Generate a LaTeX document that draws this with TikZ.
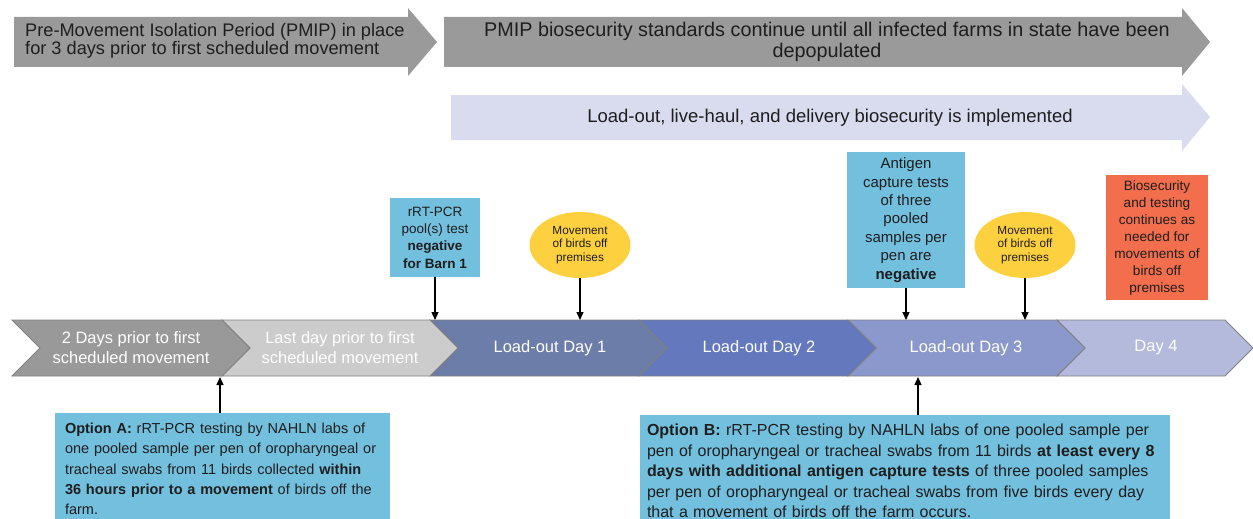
\documentclass[tikz,border=0pt]{standalone}
\usepackage{fontspec}
\setmainfont{Liberation Sans}
\usetikzlibrary{arrows.meta,shapes.geometric}
\definecolor{arrgray}{HTML}{9A9A9A}
\definecolor{lav}{HTML}{D9DCEF}
\definecolor{boxblue}{HTML}{73C0DE}
\definecolor{yel}{HTML}{FDD03F}
\definecolor{orng}{HTML}{F26E4C}
\definecolor{segA}{HTML}{999999}
\definecolor{segB}{HTML}{CCCCCC}
\definecolor{segC}{HTML}{6B7DA8}
\definecolor{segD}{HTML}{6378BD}
\definecolor{segE}{HTML}{8A98CC}
\definecolor{segF}{HTML}{B3BADC}
\definecolor{outl}{HTML}{808080}
\definecolor{txt}{HTML}{1E1E1E}
\begin{document}
\begin{tikzpicture}[x=1pt,y=-1pt,
  arr/.style={line width=1.3pt,-{Triangle[length=8pt,width=7pt]}},
  seg/.style={draw=outl,line width=0.8pt},
  segtext/.style={text=white,align=center,inner sep=0pt,font=\fontsize{16.5}{20}\selectfont},
  bluebox/.style={fill=boxblue,inner sep=0pt,align=center,text=txt},
  oval/.style={ellipse,fill=yel,inner sep=0pt,align=center,text=txt,font=\fontsize{11.8}{13.8}\selectfont},
  optbox/.style={fill=boxblue,inner sep=0pt,align=left,text=txt}]
\useasboundingbox (0,0) rectangle (1253,519);
\fill[white] (0,0) rectangle (1253,519);

% top arrows
\fill[arrgray] (14,17) -- (408,17) -- (408,8) -- (437,42) -- (408,76) -- (408,67) -- (14,67) -- cycle;
\node[anchor=west,align=left,inner sep=0pt,text=txt,font=\fontsize{18.2}{18.5}\selectfont] (pmip) at (25,41)
  {Pre-Movement Isolation Period (PMIP) in place\\for 3 days prior to first scheduled movement};

\fill[arrgray] (444,17) -- (1182,17) -- (1182,8) -- (1210,42) -- (1182,76) -- (1182,67) -- (444,67) -- cycle;
\node[align=center,inner sep=0pt,text=txt,font=\fontsize{19.8}{21}\selectfont] (cont) at (827,41.5)
  {PMIP biosecurity standards continue until all infected farms in state have been\\depopulated};

\fill[lav] (451,95) -- (1182,95) -- (1182,84) -- (1210,117) -- (1182,151) -- (1182,140) -- (451,140) -- cycle;
\node[inner sep=0pt,text=txt,font=\fontsize{18.5}{21}\selectfont] (lh) at (830,117.5)
  {Load-out, live-haul, and delivery biosecurity is implemented};

% timeline chevrons (right to left so tips overlay)
\filldraw[seg,fill=segF] (1057,320) -- (1225,320) -- (1253,348) -- (1225,376) -- (1057,376) -- (1085,348) -- cycle;
\filldraw[seg,fill=segE] (848,320) -- (1057,320) -- (1085,348) -- (1057,376) -- (848,376) -- (876,348) -- cycle;
\filldraw[seg,fill=segD] (639,320) -- (848,320) -- (876,348) -- (848,376) -- (639,376) -- (667,348) -- cycle;
\filldraw[seg,fill=segC] (430,320) -- (639,320) -- (667,348) -- (639,376) -- (430,376) -- (458,348) -- cycle;
\filldraw[seg,fill=segB] (222,320) -- (430,320) -- (458,348) -- (430,376) -- (222,376) -- (250,348) -- cycle;
\filldraw[seg,fill=segA] (12,320) -- (222,320) -- (250,348) -- (222,376) -- (12,376) -- (40,348) -- cycle;

\node[segtext] (s1) at (131,348) {2 Days prior to first\\scheduled movement};
\node[segtext] (s2) at (340,348) {Last day prior to first\\scheduled movement};
\node[segtext] (s3) at (550,348) {Load-out Day 1};
\node[segtext] (s4) at (759,348) {Load-out Day 2};
\node[segtext] (s5) at (966,348) {Load-out Day 3};
\node[segtext] (s6) at (1156,348) {Day 4};

% arrow targets on the timeline
\coordinate (t1) at (435,320);
\coordinate (t2) at (580,320);
\coordinate (t3) at (906,320);
\coordinate (t4) at (1025,320);
\coordinate (bA) at (220,377);
\coordinate (bB) at (918,377);

% upper boxes
\node[bluebox,minimum width=90pt,minimum height=79pt,font=\fontsize{13.5}{17.3}\selectfont] (pcr) at (435,237.5)
  {rRT-PCR\\pool(s) test\\\textbf{negative}\\\textbf{for Barn 1}};
\node[oval,minimum width=101pt,minimum height=66pt] (mv1) at (580,245) {Movement\\of birds off\\premises};
\node[bluebox,minimum width=118pt,minimum height=136pt,font=\fontsize{15}{18.4}\selectfont] (ag) at (906,220)
  {Antigen\\capture tests\\of three\\pooled\\samples per\\pen are\\\textbf{negative}};
\node[oval,minimum width=101pt,minimum height=66pt] (mv2) at (1025,245) {Movement\\of birds off\\premises};
\node[fill=orng,inner sep=0pt,align=center,text=txt,minimum width=102pt,minimum height=125pt,font=\fontsize{13.6}{17}\selectfont] (bio) at (1157,237.5)
  {Biosecurity\\and testing\\continues as\\needed for\\movements of\\birds off\\premises};

\draw[arr] (pcr.south) -- (t1);
\draw[arr] (mv1.south) -- (t2);
\draw[arr] (ag.south) -- (t3);
\draw[arr] (mv2.south) -- (t4);

% lower boxes
\node[optbox,minimum width=335pt,minimum height=112pt,text width=315pt,font=\fontsize{14.5}{20.2}\selectfont] (optA) at (222.5,469)
  {\textbf{Option A:} rRT-PCR testing by NAHLN labs of\\one pooled sample per pen of oropharyngeal or\\tracheal swabs from 11 birds collected \textbf{within}\\\textbf{36 hours prior to a movement} of birds off the\\farm.};
\node[optbox,minimum width=530pt,minimum height=112pt,text width=516pt,font=\fontsize{16}{20.5}\selectfont] (optB) at (905,471)
  {\textbf{Option B:} rRT-PCR testing by NAHLN labs of one pooled sample per\\pen of oropharyngeal or tracheal swabs from 11 birds \textbf{at least every 8}\\\textbf{days with additional antigen capture tests} of three pooled samples\\per pen of oropharyngeal or tracheal swabs from five birds every day\\that a movement of birds off the farm occurs.};

\draw[arr] (optA.north -| bA) -- (bA);
\draw[arr] (optB.north -| bB) -- (bB);
\end{tikzpicture}
\end{document}
